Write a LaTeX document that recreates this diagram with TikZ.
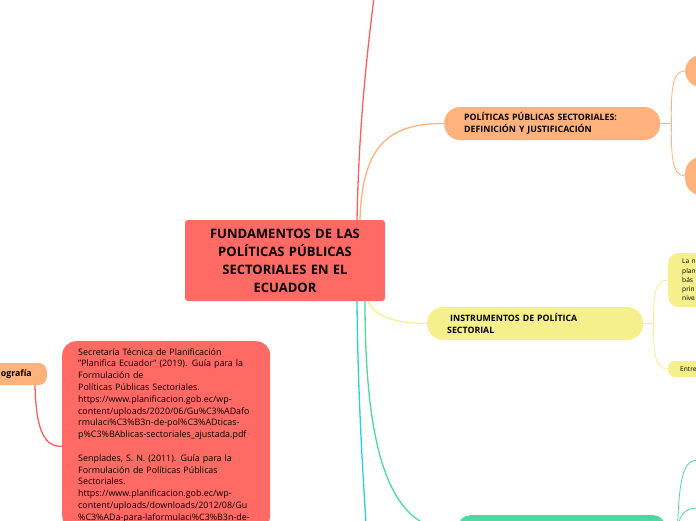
\documentclass[tikz,border=0pt]{standalone}
\usepackage{fontspec}
\setmainfont{Open Sans}
\usetikzlibrary{positioning}
\definecolor{mapRed}{HTML}{FF6B64}
\definecolor{mapOrange}{HTML}{FFB27C}
\definecolor{mapYellow}{HTML}{F6F08C}
\definecolor{mapGreen}{HTML}{4CD9A0}
\definecolor{mapCyan}{HTML}{2ACFD8}
\definecolor{lineRed}{HTML}{FF5E5E}

\begin{document}
\begin{tikzpicture}[x=1pt, y=-1pt,
    root/.style={rectangle, rounded corners=3pt, fill=mapRed,
                 minimum width=200pt, minimum height=81pt, text width=190pt,
                 align=center, font=\fontsize{13}{18}\selectfont\bfseries},
    topic/.style={rectangle, rounded corners=16pt, minimum height=33pt,
                  text width=176pt, inner xsep=20pt, align=left, anchor=west,
                  font=\fontsize{8.8}{12}\selectfont\bfseries},
    leaf/.style={rectangle, rounded corners=10pt, fill=mapYellow, align=left,
                 anchor=west, inner xsep=14pt, text width=40pt,
                 font=\fontsize{6.6}{9.2}\selectfont},
    bubble/.style={rectangle, rounded corners=16pt, fill=mapOrange,
                   minimum width=60pt, anchor=west},
    link/.style={line width=1.3pt},
    fork/.style={line width=0.8pt},
  ]
  \useasboundingbox (0,0) rectangle (696,520);
  \clip (0,0) rectangle (696,520);
  \fill[white] (0,0) rectangle (696,520);

  % central topic
  \node[root] (root) at (285,260.5)
    {FUNDAMENTOS DE LAS\\POLÍTICAS PÚBLICAS\\SECTORIALES EN EL\\ECUADOR};

  % main branches
  \node[topic, fill=mapOrange] (def) at (444,123.5)
    {POLÍTICAS PÚBLICAS SECTORIALES:\\DEFINICIÓN Y JUSTIFICACIÓN};
  \node[topic, fill=mapYellow] (instr) at (427,323.5)
    {\hspace{3pt}INSTRUMENTOS DE POLÍTICA\\SECTORIAL};
  \node[rectangle, rounded corners=12pt, fill=mapGreen, anchor=north west,
        minimum width=207pt, minimum height=33pt] (marco) at (458,515) {};
  \node[rectangle, rounded corners=8pt, fill=mapOrange, anchor=east,
        minimum height=22pt, inner xsep=15pt,
        font=\fontsize{8.8}{12}\selectfont\bfseries] (bib) at (47,374) {Bibliografía};

  % sub topics
  \node[bubble, minimum height=32pt] (defA) at (685,71) {};
  \node[bubble, minimum height=38pt] (defB) at (685,176) {};
  \node[leaf, minimum height=54pt] (instrA) at (668,280)
    {La n\\plan\\bás\\prin\\nive};
  \node[leaf, rounded corners=7pt, minimum height=16pt, inner xsep=12pt] (instrB) at (668,369)
    {Entre};
  \node[rectangle, rounded corners=14pt, fill=mapRed, anchor=north west,
        text width=176pt, inner xsep=16pt, inner ysep=7pt, align=left,
        font=\fontsize{8.9}{11.8}\selectfont] (refs) at (62,341)
    {Secretaría Técnica de Planificación\\
     "Planifica Ecuador" (2019). Guía para la\\
     Formulación de\\
     Políticas Públicas Sectoriales.\\
     https://www.planificacion.gob.ec/wp-\\
     content/uploads/2020/06/Gu\%C3\%ADafo\\
     rmulaci\%C3\%B3n-de-pol\%C3\%ADticas-\\
     p\%C3\%BAblicas-sectoriales\_ajustada.pdf\\[11.8pt]
     Senplades, S. N. (2011). Guía para la\\
     Formulación de Políticas Públicas\\
     Sectoriales.\\
     https://www.planificacion.gob.ec/wp-\\
     content/uploads/downloads/2012/08/Gu\\
     \%C3\%ADa-para-laformulaci\%C3\%B3n-de-};

  % ends that leave the picture
  \coordinate (offTop) at (379,-40);
  \coordinate (offBottom) at (371,600);
  \coordinate (marcoA) at (698,460);
  \coordinate (marcoB) at (698,508);

  % connectors from the centre
  \draw[link, lineRed] ([xshift=72pt]root.north) .. controls (359,120) and (368,40) .. (offTop);
  \draw[link, mapOrange] ([xshift=75pt]root.north) .. controls (362,150) and (385,123) .. (def.west);
  \draw[link, mapYellow] ([xshift=83pt]root.south) .. controls (375,318) and (400,323.5) .. (instr.west);
  \draw[link, mapGreen] ([xshift=80pt]root.south) .. controls (365,480) and (400,531) .. (marco.west);
  \draw[link, mapCyan] ([xshift=72pt]root.south) .. controls (358,420) and (366,520) .. (offBottom);

  % forks
  \draw[fork, mapOrange] (def.east) -- ++(11,0) coordinate (defFork);
  \draw[fork, mapOrange] (defFork) .. controls (671,90) and (672,71) .. (defA.west);
  \draw[fork, mapOrange] (defFork) .. controls (671,155) and (672,176) .. (defB.west);
  \draw[fork, mapYellow] (instr.east) -- ++(10,0) coordinate (instrFork);
  \draw[fork, mapYellow] (instrFork) .. controls (653,292) and (656,280) .. (instrA.west);
  \draw[fork, mapYellow] (instrFork) .. controls (653,355) and (656,369) .. (instrB.west);
  \draw[fork, mapGreen] (marco.east) -- ++(12,0) coordinate (marcoFork);
  \draw[fork, mapGreen] (marcoFork) .. controls (679,475) and (684,460) .. (marcoA);
  \draw[fork, mapGreen] (marcoFork) .. controls (679,515) and (684,508) .. (marcoB);
  \draw[link, lineRed] ([xshift=-12pt]bib.south east) .. controls (36,432) and (45,447) .. ([yshift=-11pt]refs.west);
\end{tikzpicture}
\end{document}
